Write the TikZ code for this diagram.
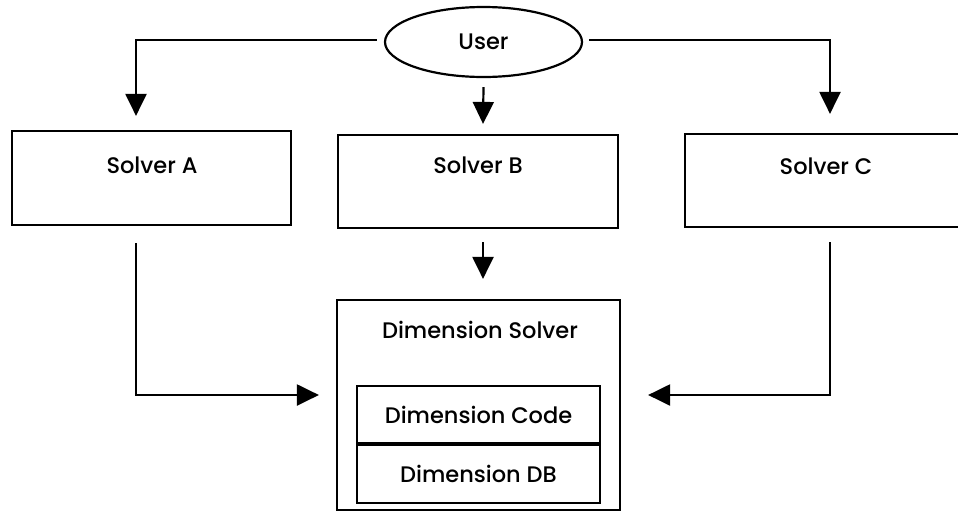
\documentclass[tikz,border=0pt]{standalone}
\usepackage{fontspec}
\setmainfont{Poppins}[UprightFont=* Medium]
\usetikzlibrary{shapes.geometric, arrows.meta, positioning}

\begin{document}
\begin{tikzpicture}[x=1pt, y=-1pt,
    box/.style={draw, line width=2.2pt, rectangle, inner sep=0pt},
    txt/.style={font=\fontsize{22.5}{27}\selectfont, inner sep=0pt},
    flow/.style={line width=2.2pt, -{Triangle[length=22pt, width=21pt]}}]
    \useasboundingbox (0,0) rectangle (958,512);
    \clip (0,0) rectangle (958,512);
    % user and the three solvers
    \node[draw, ellipse, line width=2.2pt, minimum width=197pt, minimum height=70pt, txt] (user) at (483.5,42) {User};
    \node[box, minimum width=279pt, minimum height=94pt] (sa) at (151.5,178) {};
    \node[box, minimum width=280pt, minimum height=93pt] (sb) at (478,181.5) {};
    \node[box, minimum width=305pt, minimum height=93pt] (sc) at (837.5,180.5) {};
    \node[txt] (sa-text) at (152,165) {Solver A};
    \node[txt] (sb-text) at (478,165) {Solver B};
    \node[txt] (sc-text) at (826,166) {Solver C};
    % dimension solver
    \node[box, minimum width=283pt, minimum height=210pt] (dim) at (478.5,405) {};
    \node[txt] (dim-text) at (480,330) {Dimension Solver};
    \node[box, txt, minimum width=243pt, minimum height=57pt] (code) at (478.5,414.5) {Dimension Code};
    \node[box, txt, minimum width=243pt, minimum height=58pt, below=0pt of code] (db) {Dimension DB};
    % arrows
    \draw[flow] ([xshift=-7pt,yshift=2pt]user.west) -| ([xshift=-15.5pt,yshift=14pt]sa.north);
    \draw[flow] ([yshift=-9pt]user.south) -- ([xshift=5pt,yshift=10pt]sb.north);
    \draw[flow] ([xshift=6pt,yshift=2pt]user.east) -| ([xshift=-7.5pt,yshift=19pt]sc.north);
    \draw[flow] ([xshift=5pt,yshift=-13pt]sb.south) -- ([xshift=4.5pt,yshift=20pt]dim.north);
    \draw[flow] ([xshift=-15.5pt,yshift=-17pt]sa.south) |- ([xshift=-17pt,yshift=10pt]dim.west);
    \draw[flow] ([xshift=-7.5pt,yshift=-14pt]sc.south) |- ([xshift=27pt,yshift=10pt]dim.east);
\end{tikzpicture}
\end{document}
